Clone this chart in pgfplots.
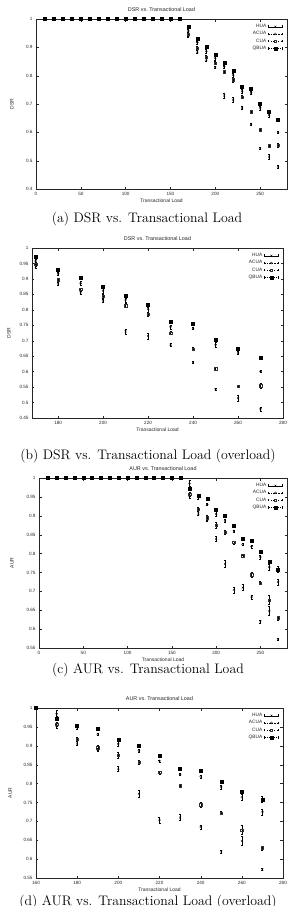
\documentclass[border=0pt]{standalone}
\usepackage{fontspec}
\usepackage{pgfplots}
\usepackage{pgfplotstable}
\pgfplotsset{compat=1.18}
\newfontfamily\plotfont{Liberation Sans}

\pgfplotstableread{
x h he a ae c ce q qe
10 1 0 1 0 1 0 1 0
20 1 0 1 0 1 0 1 0
30 1 0 1 0 1 0 1 0
40 1 0 1 0 1 0 1 0
50 1 0 1 0 1 0 1 0
60 1 0 1 0 1 0 1 0
70 1 0 1 0 1 0 1 0
80 1 0 1 0 1 0 1 0
90 1 0 1 0 1 0 1 0
100 1 0 1 0 1 0 1 0
110 1 0 1 0 1 0 1 0
120 1 0 1 0 1 0 1 0
130 1 0 1 0 1 0 1 0
140 1 0 1 0 1 0 1 0
150 1 0 1 0 1 0 1 0
160 1 0 1 0 1 0 1 0
170 0.941 0.006 0.958 0.006 0.947 0.006 0.972 0.004
180 0.885 0.004 0.917 0.004 0.898 0.005 0.931 0.003
190 0.857 0.006 0.886 0.006 0.866 0.005 0.903 0.003
200 0.830 0.005 0.862 0.007 0.845 0.006 0.875 0.004
210 0.730 0.008 0.832 0.006 0.814 0.006 0.846 0.004
220 0.715 0.009 0.802 0.008 0.786 0.008 0.817 0.004
230 0.687 0.005 0.745 0.006 0.725 0.005 0.760 0.003
240 0.630 0.004 0.740 0.004 0.673 0.005 0.755 0.003
250 0.543 0.004 0.687 0.007 0.610 0.004 0.702 0.004
260 0.514 0.009 0.661 0.006 0.553 0.004 0.674 0.003
270 0.479 0.006 0.601 0.004 0.554 0.008 0.645 0.003
}\dsr

\pgfplotstableread{
x h he a ae c ce q qe
10 1 0 1 0 1 0 1 0
20 1 0 1 0 1 0 1 0
30 1 0 1 0 1 0 1 0
40 1 0 1 0 1 0 1 0
50 1 0 1 0 1 0 1 0
60 1 0 1 0 1 0 1 0
70 1 0 1 0 1 0 1 0
80 1 0 1 0 1 0 1 0
90 1 0 1 0 1 0 1 0
100 1 0 1 0 1 0 1 0
110 1 0 1 0 1 0 1 0
120 1 0 1 0 1 0 1 0
130 1 0 1 0 1 0 1 0
140 1 0 1 0 1 0 1 0
150 1 0 1 0 1 0 1 0
160 1 0 1 0 1 0 1 0
170 0.953 0.007 0.985 0.010 0.957 0.006 0.973 0.005
180 0.906 0.005 0.948 0.004 0.918 0.006 0.953 0.004
190 0.890 0.005 0.930 0.003 0.895 0.006 0.945 0.003
200 0.839 0.007 0.905 0.006 0.875 0.009 0.917 0.003
210 0.773 0.010 0.887 0.003 0.857 0.005 0.901 0.003
220 0.704 0.008 0.860 0.003 0.830 0.004 0.875 0.003
230 0.710 0.008 0.824 0.003 0.794 0.003 0.840 0.003
240 0.685 0.005 0.819 0.004 0.744 0.006 0.833 0.003
250 0.621 0.004 0.791 0.005 0.722 0.004 0.806 0.003
260 0.648 0.012 0.764 0.008 0.677 0.012 0.778 0.004
270 0.573 0.003 0.725 0.008 0.630 0.005 0.758 0.008
}\aur

\pgfplotsset{
  gp/.style={
    scale only axis,
    height=170pt,
    axis line style={line width=0.4pt, black!85},
    tick style={line width=0.3pt, black!85},
    major tick length=2.5pt,
    tick align=inside,
    ticklabel style={font=\plotfont\fontsize{4.6}{5}\selectfont, text=black!85},
    /pgf/number format/assume math mode=true,
    yticklabel style={/pgf/number format/fixed, /pgf/number format/precision=2},
    label style={font=\plotfont\fontsize{5}{6}\selectfont, text=black!85},
    title style={font=\plotfont\fontsize{5.4}{6}\selectfont, text=black!85, yshift=-2pt},
    xlabel={Transactional Load},
    xlabel style={at={(axis description cs:0.5,-0.07)}, anchor=center},
    legend style={draw=none, fill=none, at={(0.985,0.985)}, anchor=north east,
      font=\plotfont\fontsize{4.8}{5}\selectfont, row sep=-1.6pt, inner sep=0.5pt,
      text=black!85},
    legend cell align=right,
    legend plot pos=right,
    error bars/y dir=both,
    error bars/y explicit,
    error bars/error bar style={line width=0.3pt, black},
    error bars/error mark options={rotate=90, line width=0.3pt, mark size=1pt, black},
  },
  gpleg/.style={legend image code/.code={
    \draw[mark=none, line width=0.3pt, black, #1] (0pt,0pt) -- (14pt,0pt);
    \draw[mark=none, line width=0.3pt, black, solid] (0pt,-1.2pt) -- (0pt,1.2pt) (14pt,-1.2pt) -- (14pt,1.2pt);
    \draw[##1, solid] plot coordinates {(7pt,0pt)};
  }},
  sH/.style={only marks, black, mark=x, mark size=1.3pt, mark options={line width=0.35pt}, gpleg={solid}},
  sA/.style={only marks, black, mark=o, mark size=1.0pt, mark options={line width=0.35pt}, gpleg={dash pattern=on 1.5pt off 1pt}},
  sC/.style={only marks, black!80, mark=square, mark size=1.2pt, mark options={line width=0.35pt}, gpleg={dash pattern=on 1pt off 1.5pt}},
  sQ/.style={only marks, black, mark=square*, mark size=1.5pt, gpleg={dash pattern=on 2pt off 1pt on 0.5pt off 1pt}},
}

\begin{document}
\begin{tikzpicture}
\useasboundingbox (0pt,0pt) rectangle (296pt,-906pt);

% (a)
\begin{axis}[gp, at={(36pt,-189pt)}, anchor=south west, width=251pt,
  title={DSR vs.\ Transactional Load}, ylabel={DSR},
  ylabel style={at={(axis description cs:-0.096,0.5)}, anchor=center},
  xmin=0, xmax=280, ymin=0.4, ymax=1,
  xtick={0,50,100,150,200,250}, ytick={0.4,0.5,0.6,0.7,0.8,0.9,1}]
\addplot[sH] table[x=x, y=h, y error=he] {\dsr}; \addlegendentry{HUA}
\addplot[sA] table[x=x, y=a, y error=ae] {\dsr}; \addlegendentry{ACUA}
\addplot[sC] table[x=x, y=c, y error=ce] {\dsr}; \addlegendentry{CUA}
\addplot[sQ] table[x=x, y=q, y error=qe] {\dsr}; \addlegendentry{QBUA}
\end{axis}
\node[font=\fontsize{13.8}{16}\selectfont] at (147pt,-219pt) {(a) DSR vs. Transactional Load};

% (b)
\begin{axis}[gp, at={(32pt,-418pt)}, anchor=south west, width=251pt,
  title={DSR vs.\ Transactional Load}, ylabel={DSR},
  ylabel style={at={(axis description cs:-0.092,0.5)}, anchor=center},
  xmin=168.4, xmax=280, ymin=0.45, ymax=1,
  restrict x to domain=165:285,
  xtick={180,200,220,240,260,280},
  ytick={0.45,0.5,0.55,0.6,0.65,0.7,0.75,0.8,0.85,0.9,0.95,1}]
\addplot[sH] table[x=x, y=h, y error=he] {\dsr}; \addlegendentry{HUA}
\addplot[sA] table[x=x, y=a, y error=ae] {\dsr}; \addlegendentry{ACUA}
\addplot[sC] table[x=x, y=c, y error=ce] {\dsr}; \addlegendentry{CUA}
\addplot[sQ] table[x=x, y=q, y error=qe] {\dsr}; \addlegendentry{QBUA}
\end{axis}
\node[font=\fontsize{13.8}{16}\selectfont] at (148pt,-456pt) {(b) DSR vs. Transactional Load (overload)};

% (c)
\begin{axis}[gp, at={(39pt,-648pt)}, anchor=south west, width=248pt,
  title={AUR vs.\ Transactional Load}, ylabel={AUR},
  ylabel style={at={(axis description cs:-0.109,0.5)}, anchor=center},
  xmin=0, xmax=280, ymin=0.55, ymax=1,
  xtick={0,50,100,150,200,250},
  ytick={0.55,0.6,0.65,0.7,0.75,0.8,0.85,0.9,0.95,1}]
\addplot[sH] table[x=x, y=h, y error=he] {\aur}; \addlegendentry{HUA}
\addplot[sA] table[x=x, y=a, y error=ae] {\aur}; \addlegendentry{ACUA}
\addplot[sC] table[x=x, y=c, y error=ce] {\aur}; \addlegendentry{CUA}
\addplot[sQ] table[x=x, y=q, y error=qe] {\aur}; \addlegendentry{QBUA}
\end{axis}
\node[font=\fontsize{13.8}{16}\selectfont] at (148pt,-670pt) {(c) AUR vs. Transactional Load};

% (d)
\begin{axis}[gp, at={(36pt,-878pt)}, anchor=south west, width=247pt,
  title={AUR vs.\ Transactional Load}, ylabel={AUR},
  ylabel style={at={(axis description cs:-0.105,0.5)}, anchor=center},
  xmin=160, xmax=280, ymin=0.55, ymax=1,
  restrict x to domain=155:285,
  xtick={160,180,200,220,240,260,280},
  ytick={0.55,0.6,0.65,0.7,0.75,0.8,0.85,0.9,0.95,1}]
\addplot[sH] table[x=x, y=h, y error=he] {\aur}; \addlegendentry{HUA}
\addplot[sA] table[x=x, y=a, y error=ae] {\aur}; \addlegendentry{ACUA}
\addplot[sC] table[x=x, y=c, y error=ce] {\aur}; \addlegendentry{CUA}
\addplot[sQ] table[x=x, y=q, y error=qe] {\aur}; \addlegendentry{QBUA}
\end{axis}
\node[font=\fontsize{13.8}{16}\selectfont] at (148pt,-902pt) {(d) AUR vs. Transactional Load (overload)};
\end{tikzpicture}
\end{document}
